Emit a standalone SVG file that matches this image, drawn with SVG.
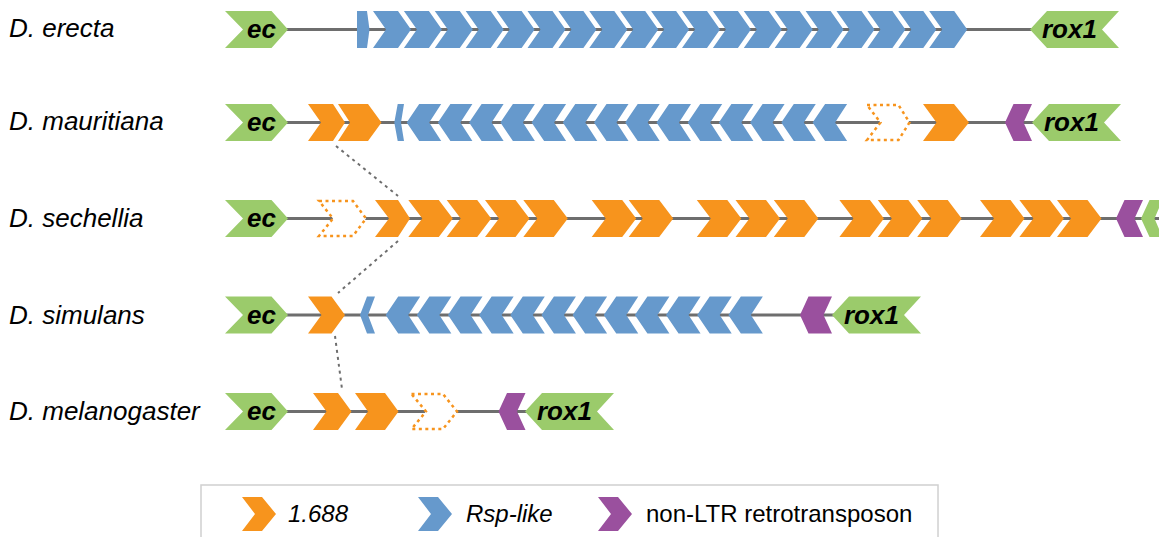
<svg xmlns="http://www.w3.org/2000/svg" width="1159" height="537" viewBox="0 0 1159 537">
<style>
.g{fill:#9BCB6B}
.o{fill:#F7941D}
.b{fill:#6699CC}
.p{fill:#9A509E}
.od{fill:#fff;stroke:#F7941D;stroke-width:2.5;stroke-dasharray:3 3.5}
.bb{stroke:#6E6E6E;stroke-width:3;fill:none}
.lbl{font-family:"Liberation Sans",Arial,sans-serif;font-size:26px;font-style:italic;fill:#000}
.gene{font-family:"Liberation Sans",Arial,sans-serif;font-size:26px;font-style:italic;font-weight:bold;fill:#000}
.leg{font-family:"Liberation Sans",Arial,sans-serif;font-size:24px;fill:#000}
.con{stroke:#6E6E6E;stroke-width:2;stroke-dasharray:3 4;fill:none}
</style>
<defs>
<path id="ec" d="M0,0 H46.5 L63,18.5 L46.5,37 H0 L18,18.5 Z"/>
<path id="rox" d="M0,18.5 L17,0 H89 L72,18.5 L89,37 H17 Z"/>
<path id="bR" d="M0,0 H25 L38,18.5 L25,37 H0 L13,18.5 Z"/>
<path id="bL" d="M0,18.5 L12.5,0 H34.5 L22.5,18.5 L34.5,37 H12.5 Z"/>
<path id="oS" d="M0,0 H30.5 L44.5,18.5 L30.5,37 H0 L14,18.5 Z"/>
<path id="pL" d="M0,18.5 L8.5,0 H27 L18.5,18.5 L27,37 H8.5 Z"/>
</defs>

<!-- D. erecta -->
<g id="row-erecta">
<text class="lbl" x="9" y="37">D. erecta</text>
<g transform="translate(0,11)">
<line class="bb" x1="285" y1="18.5" x2="1032" y2="18.5"/>
<g id="erecta-ec"><use href="#ec" class="g" x="225"/><text class="gene" x="247" y="27">ec</text></g>
<g id="erecta-rsp">
<path class="b" d="M357,0 H367 L369.5,18.5 L367,37 H357 Z"/>
<use href="#bR" class="b" x="373"/><use href="#bR" class="b" x="403.9"/><use href="#bR" class="b" x="434.8"/><use href="#bR" class="b" x="465.7"/><use href="#bR" class="b" x="496.6"/><use href="#bR" class="b" x="527.5"/><use href="#bR" class="b" x="558.4"/><use href="#bR" class="b" x="589.3"/><use href="#bR" class="b" x="620.2"/><use href="#bR" class="b" x="651.1"/><use href="#bR" class="b" x="682"/><use href="#bR" class="b" x="712.9"/><use href="#bR" class="b" x="743.8"/><use href="#bR" class="b" x="774.7"/><use href="#bR" class="b" x="805.6"/><use href="#bR" class="b" x="836.5"/><use href="#bR" class="b" x="867.4"/><use href="#bR" class="b" x="898.3"/><use href="#bR" class="b" x="929.2"/>
</g>
<g id="erecta-rox1"><use href="#rox" class="g" x="1030"/><text class="gene" x="1042" y="27">rox1</text></g>
</g>
</g>

<!-- D. mauritiana -->
<g id="row-mauritiana">
<text class="lbl" x="9" y="130">D. mauritiana</text>
<g transform="translate(0,104)">
<line class="bb" x1="285" y1="18.5" x2="1034" y2="18.5"/>
<g id="mauritiana-ec"><use href="#ec" class="g" x="225"/><text class="gene" x="247" y="27">ec</text></g>
<g id="mauritiana-1688a">
<path class="o" d="M308,0 H333 L345,18.5 L333,37 H308 L321,18.5 Z"/>
<path class="o" d="M338,0 H368 L381.5,18.5 L368,37 H338 L350,18.5 Z"/>
</g>
<g id="mauritiana-rsp">
<path class="b" d="M397.7,0 H404 L401,18.5 L404,37 H397.7 L394.3,18.5 Z"/>
<use href="#bL" class="b" x="406.7"/><use href="#bL" class="b" x="437.9"/><use href="#bL" class="b" x="469.1"/><use href="#bL" class="b" x="500.4"/><use href="#bL" class="b" x="531.6"/><use href="#bL" class="b" x="562.8"/><use href="#bL" class="b" x="594"/><use href="#bL" class="b" x="625.2"/><use href="#bL" class="b" x="656.5"/><use href="#bL" class="b" x="687.7"/><use href="#bL" class="b" x="718.9"/><use href="#bL" class="b" x="750.1"/><use href="#bL" class="b" x="781.3"/><use href="#bL" class="b" x="812.6"/>
</g>
<g id="mauritiana-1688b">
<path class="od" d="M867,1 H898.5 L909.5,18.5 L898.5,36 H867 L880.5,18.5 Z"/>
<path class="o" d="M923,0 H954 L969,18.5 L954,37 H923 L936.5,18.5 Z"/>
</g>
<g id="mauritiana-line"><use href="#pL" class="p" x="1005"/></g>
<g id="mauritiana-rox1"><use href="#rox" class="g" x="1032"/><text class="gene" x="1044" y="27">rox1</text></g>
</g>
</g>

<!-- D. sechellia -->
<g id="row-sechellia">
<text class="lbl" x="9" y="227">D. sechellia</text>
<g transform="translate(0,200)">
<line class="bb" x1="285" y1="18.5" x2="1159" y2="18.5"/>
<g id="sechellia-ec"><use href="#ec" class="g" x="225"/><text class="gene" x="247" y="27">ec</text></g>
<g id="sechellia-1688">
<path class="od" d="M319,1 H353 L366,18.5 L353,36 H319 L333,18.5 Z"/>
<path class="o" d="M375,0 H398 L410,18.5 L398,37 H375 L389,18.5 Z"/>
<use href="#oS" class="o" x="408.3"/><use href="#oS" class="o" x="446.7"/><use href="#oS" class="o" x="485"/><use href="#oS" class="o" x="523.3"/>
<use href="#oS" class="o" x="591.7"/><use href="#oS" class="o" x="628.7"/>
<use href="#oS" class="o" x="696.8"/><use href="#oS" class="o" x="735.5"/><use href="#oS" class="o" x="773.8"/>
<use href="#oS" class="o" x="839.4"/><use href="#oS" class="o" x="877.8"/><use href="#oS" class="o" x="917.2"/>
<use href="#oS" class="o" x="980"/><use href="#oS" class="o" x="1019.4"/><use href="#oS" class="o" x="1057"/>
</g>
<g id="sechellia-line"><use href="#pL" class="p" x="1116"/></g>
<g id="sechellia-rox1"><path class="g" d="M1141,18.5 L1149.5,0 H1159 V8 L1154.5,18.5 L1159,29 V37 H1149.5 Z"/></g>
</g>
</g>

<!-- D. simulans -->
<g id="row-simulans">
<text class="lbl" x="9" y="323.5">D. simulans</text>
<g transform="translate(0,296.5)">
<line class="bb" x1="285" y1="18.5" x2="834" y2="18.5"/>
<g id="simulans-ec"><use href="#ec" class="g" x="225"/><text class="gene" x="247" y="27">ec</text></g>
<g id="simulans-1688"><path class="o" d="M308,0 H331.5 L345,18.5 L331.5,37 H308 L321.5,18.5 Z"/></g>
<g id="simulans-rsp">
<path class="b" d="M360,18.5 L367,0 H375 L368,18.5 L375,37 H367 Z"/>
<use href="#bL" class="b" x="385.7"/><use href="#bL" class="b" x="416.85"/><use href="#bL" class="b" x="448"/><use href="#bL" class="b" x="479.15"/><use href="#bL" class="b" x="510.3"/><use href="#bL" class="b" x="541.45"/><use href="#bL" class="b" x="572.6"/><use href="#bL" class="b" x="603.75"/><use href="#bL" class="b" x="634.9"/><use href="#bL" class="b" x="666.05"/><use href="#bL" class="b" x="697.2"/><use href="#bL" class="b" x="728.35"/>
</g>
<g id="simulans-line"><path class="p" d="M800,18.5 L808.5,0 H832 L823.5,18.5 L832,37 H808.5 Z"/></g>
<g id="simulans-rox1"><use href="#rox" class="g" x="832"/><text class="gene" x="844" y="27">rox1</text></g>
</g>
</g>

<!-- D. melanogaster -->
<g id="row-melanogaster">
<text class="lbl" x="9" y="420">D. melanogaster</text>
<g transform="translate(0,393)">
<line class="bb" x1="285" y1="18.5" x2="527" y2="18.5"/>
<g id="melanogaster-ec"><use href="#ec" class="g" x="225"/><text class="gene" x="247" y="27">ec</text></g>
<g id="melanogaster-1688">
<path class="o" d="M313,0 H338 L351.5,18.5 L338,37 H313 L326.5,18.5 Z"/>
<path class="o" d="M355,0 H385 L398.5,18.5 L385,37 H355 L368,18.5 Z"/>
<path class="od" d="M411.5,1 H443 L457,18.5 L443,36 H411.5 L426,18.5 Z"/>
</g>
<g id="melanogaster-line"><use href="#pL" class="p" x="498.5"/></g>
<g id="melanogaster-rox1"><use href="#rox" class="g" x="525"/><text class="gene" x="537" y="27">rox1</text></g>
</g>
</g>

<!-- connectors -->
<g id="connectors">
<line class="con" x1="336" y1="146" x2="398" y2="196"/>
<line class="con" x1="398" y1="241" x2="338" y2="293"/>
<line class="con" x1="335" y1="336" x2="342" y2="389"/>
</g>

<!-- legend -->
<g id="legend">
<rect x="201" y="485" width="737" height="60" fill="#fff" stroke="#D0D0D0" stroke-width="1.5"/>
<g id="legend-1688"><path class="o" d="M242,497 H262 L276,514 L262,531 H242 L255,514 Z"/><text class="leg" font-style="italic" x="288" y="522">1.688</text></g>
<g id="legend-rsp"><path class="b" d="M418,497 H438 L452,514 L438,531 H418 L431,514 Z"/><text class="leg" font-style="italic" x="466" y="522">Rsp-like</text></g>
<g id="legend-line"><path class="p" d="M598,497 H618 L632,514 L618,531 H598 L611,514 Z"/><text class="leg" x="646" y="522">non-LTR retrotransposon</text></g>
</g>
</svg>
